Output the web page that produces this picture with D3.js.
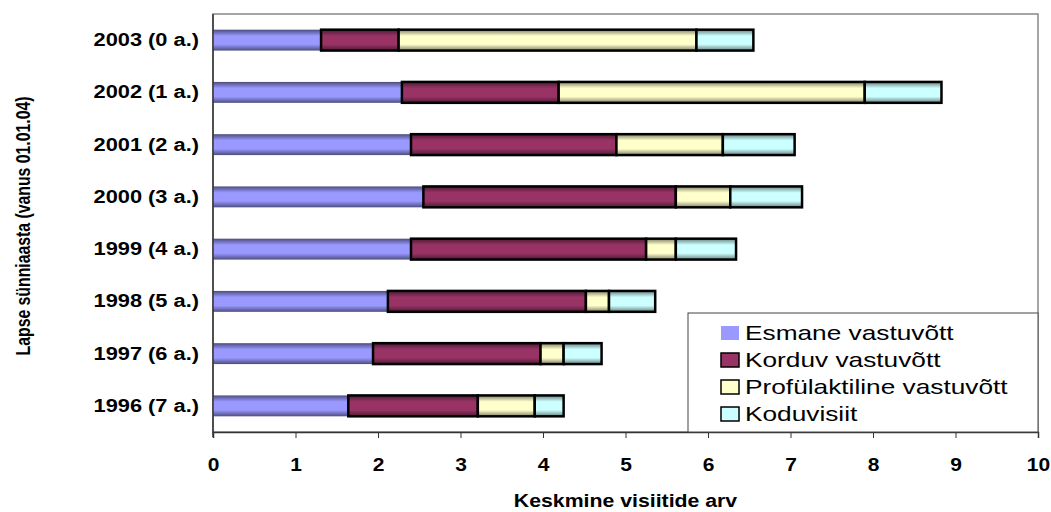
<!DOCTYPE html>
<html><head><meta charset="utf-8">
<script src="https://cdn.jsdelivr.net/npm/d3@7"></script>
<style>body{margin:0;background:#fff}svg{display:block}text{font-family:"Liberation Sans",Arial,sans-serif}</style>
</head><body><svg id="c" width="1051" height="512"></svg>
<script>
const categories = ["2003 (0 a.)","2002 (1 a.)","2001 (2 a.)","2000 (3 a.)","1999 (4 a.)","1998 (5 a.)","1997 (6 a.)","1996 (7 a.)"];
const seriesNames = ["Esmane vastuvõtt","Korduv vastuvõtt","Profülaktiline vastuvõtt","Koduvisiit"];
const esmane  = [1.31, 2.29, 2.40, 2.55, 2.40, 2.12, 1.94, 1.64];
const korduv  = [0.94, 1.90, 2.49, 3.06, 2.85, 2.40, 2.03, 1.57];
const profyl  = [3.61, 3.71, 1.29, 0.66, 0.36, 0.28, 0.28, 0.69];
const koduv   = [0.69, 0.93, 0.87, 0.87, 0.73, 0.56, 0.46, 0.35];
const xTicks = [0,1,2,3,4,5,6,7,8,9,10];
const colors = ["#9999FF","#993366","#FFFFCC","#CCFFFF"];
const edgeColors = ["#4d4d80","#4d1a33","#808066","#668080"];

const svg = d3.select("#c");
const L=213, R=1038, T=14, B=432;
const x = d3.scaleLinear().domain([0,10]).range([L,R]);
const y = d3.scaleBand().domain(categories).range([T,B]).paddingInner(0.6).paddingOuter(0.3);

const defs = svg.append("defs");
colors.forEach((c,i)=>{
  const g = defs.append("linearGradient").attr("id","g"+i).attr("x1",0).attr("y1",0).attr("x2",0).attr("y2",1);
  g.append("stop").attr("offset","0%").attr("stop-color",edgeColors[i]);
  g.append("stop").attr("offset","30%").attr("stop-color",c);
  g.append("stop").attr("offset","70%").attr("stop-color",c);
  g.append("stop").attr("offset","100%").attr("stop-color",edgeColors[i]);
});

// plot border
svg.append("rect").attr("x",L).attr("y",T).attr("width",R-L).attr("height",B-T)
  .attr("fill","none").attr("stroke","#888").attr("stroke-width",1.5);

const data = categories.map((c,i)=>({cat:c, s0:esmane[i], s1:korduv[i], s2:profyl[i], s3:koduv[i]}));
const stack = d3.stack().keys(["s0","s1","s2","s3"])(data);

stack.forEach((layer,si)=>{
  svg.append("g").selectAll("rect").data(layer).join("rect")
    .attr("x",d=>x(d[0])).attr("width",d=>x(d[1])-x(d[0]))
    .attr("y",d=>y(d.data.cat)).attr("height",y.bandwidth())
    .attr("fill","url(#g"+si+")")
    .attr("stroke",si===0?"none":"#000").attr("stroke-width",2.5);
});

// x axis
const xa = svg.append("g").attr("transform",`translate(0,${B})`)
  .call(d3.axisBottom(x).tickValues(xTicks).tickSize(6).tickPadding(21).tickFormat(d3.format("d")));
xa.select(".domain").attr("stroke","#333").attr("stroke-width",1.5);
xa.selectAll(".tick line").attr("stroke","#333");
xa.selectAll("text").attr("font-size",17.5).attr("font-weight","bold").attr("fill","#000")
  .attr("font-family","Liberation Sans, Arial").attr("transform","scale(1.2,1)");

// y axis
const ysx = 1.18;
const ya = svg.append("g").attr("transform",`translate(${L},0)`)
  .call(d3.axisLeft(y).tickSize(0).tickPadding(14));
ya.select(".domain").attr("stroke","#333").attr("stroke-width",1.5).attr("d",`M0,${T}V${B+5}`);
ya.selectAll("text").attr("font-size",18.5).attr("font-weight","bold").attr("fill","#000")
  .attr("font-family","Liberation Sans, Arial").attr("x",-14/ysx).attr("transform",`scale(${ysx},1)`);

// titles
svg.append("text").attr("transform",`translate(${(L+R)/2},507) scale(1.12,1)`).attr("text-anchor","middle")
  .attr("font-size",19).attr("font-weight","bold").text("Keskmine visiitide arv");
svg.append("text").attr("transform","translate(30,226) scale(1.3,1) rotate(-90)").attr("text-anchor","middle")
  .attr("font-size",15.8).attr("font-weight","bold").text("Lapse sünniaasta (vanus 01.01.04)");

// legend
const lg = svg.append("g");
lg.append("rect").attr("x",688).attr("y",313).attr("width",R-688).attr("height",B-313)
  .attr("fill","#fff").attr("stroke","#444").attr("stroke-width",1);
seriesNames.forEach((n,i)=>{
  const base = 340 + i*27;
  lg.append("rect").attr("x",721).attr("y",base-14).attr("width",18).attr("height",14)
    .attr("fill",colors[i]).attr("stroke",i===0?"none":"#000").attr("stroke-width",1.5);
  lg.append("text").attr("transform",`translate(745,${base}) scale(1.25,1)`).attr("font-size",21).text(n);
});
</script></body></html>
